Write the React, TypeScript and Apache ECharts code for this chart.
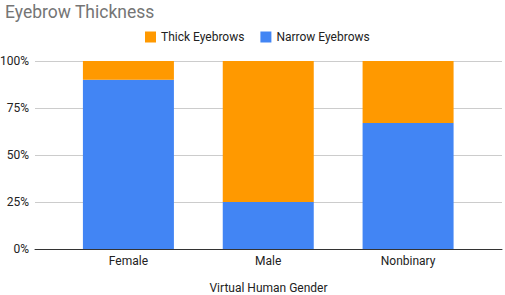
import React, { useEffect, useRef } from "react";
import * as echarts from "echarts";

const categories = ["Female", "Male", "Nonbinary"];
const thickValues = [10, 75, 33];
const narrowValues = [90, 25, 67];
const yTicks = [0, 25, 50, 75, 100];

export default function App() {
  const ref = useRef<HTMLDivElement>(null);
  useEffect(() => {
    if (!ref.current) return;
    const chart = echarts.init(ref.current, null, { renderer: "svg" });
    const font = "Roboto, Arial, sans-serif";
    chart.setOption({
      animation: false,
      backgroundColor: "#ffffff",
      title: {
        text: "Eyebrow Thickness",
        left: 0,
        top: -2,
        textStyle: { fontFamily: font, fontSize: 17.5, fontWeight: "normal", color: "#757575" },
      },
      legend: {
        top: 26,
        left: 140,
        itemWidth: 11,
        itemHeight: 11,
        itemGap: 16,
        icon: "rect",
        textStyle: { fontFamily: font, fontSize: 12, color: "#222" },
        data: ["Thick Eyebrows", "Narrow Eyebrows"],
      },
      grid: [
        { left: 35, right: 3, top: 61, bottom: 46, containLabel: false, outerBoundsMode: "none" },
        { left: 58.5, right: 27, top: 61, bottom: 46, containLabel: false, outerBoundsMode: "none" },
      ],
      xAxis: [
        {
          type: "category",
          gridIndex: 0,
          data: categories,
          axisLine: { lineStyle: { color: "#333", width: 1 } },
          axisTick: { show: false },
          axisLabel: { show: false },
          name: "Virtual Human Gender",
          nameLocation: "middle",
          nameGap: 33,
          nameTextStyle: { fontFamily: font, fontSize: 12, color: "#222" },
        },
        {
          type: "category",
          gridIndex: 1,
          data: categories,
          axisLine: { show: false },
          axisTick: { show: false },
          axisLabel: { fontFamily: font, fontSize: 12, color: "#222", margin: 6 },
        },
      ],
      yAxis: [
        {
          type: "value",
          gridIndex: 0,
          min: yTicks[0],
          max: yTicks[yTicks.length - 1],
          interval: 25,
          axisLine: { show: false },
          axisTick: { show: false },
          splitLine: { lineStyle: { color: "#cccccc" } },
          axisLabel: { fontFamily: font, fontSize: 12, color: "#222", margin: 6, formatter: "{value}%" },
        },
        {
          type: "value",
          gridIndex: 1,
          min: 0,
          max: 100,
          interval: 25,
          show: false,
        },
      ],
      series: [
        {
          name: "Narrow Eyebrows",
          type: "bar",
          stack: "total",
          xAxisIndex: 1,
          yAxisIndex: 1,
          barWidth: 91,
          itemStyle: { color: "#4285f4" },
          data: narrowValues,
        },
        {
          name: "Thick Eyebrows",
          type: "bar",
          stack: "total",
          xAxisIndex: 1,
          yAxisIndex: 1,
          barWidth: 91,
          itemStyle: { color: "#ff9900" },
          data: thickValues,
        },
      ],
    });
    return () => chart.dispose();
  }, []);
  return <div ref={ref} style={{ width: 505, height: 295, position: "absolute", left: 0, top: 0 }} />;
}
